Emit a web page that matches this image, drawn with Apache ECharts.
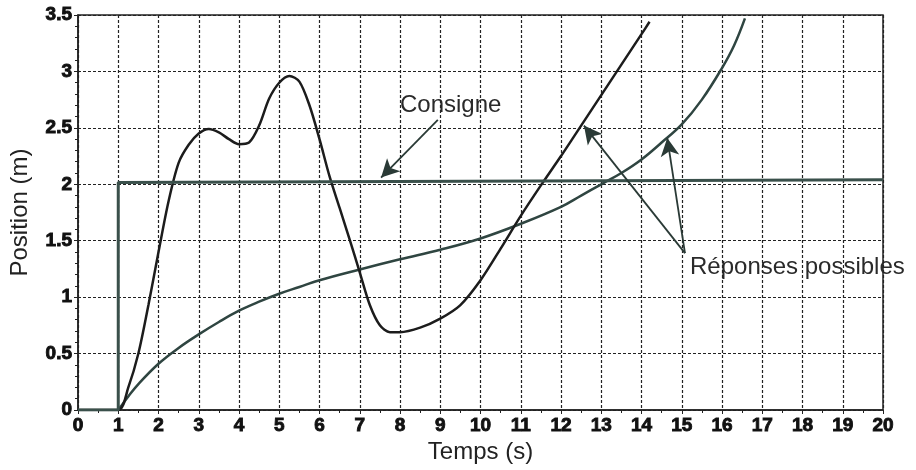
<!DOCTYPE html>
<html>
<head>
<meta charset="utf-8">
<script src="https://cdn.jsdelivr.net/npm/echarts@6/dist/echarts.min.js"></script>
<style>
  html, body { margin: 0; padding: 0; background: #fff; }
  #chartBox { width: 916px; height: 470px; }
</style>
</head>
<body>
<div id="chartBox"></div>
<script>
// consigne (échelon)
var consigneT = [0, 1, 1, 20];
var consigneY = [0, 0, 2.015, 2.04];

// réponse oscillante
var repAT = [0, 1, 1.25, 1.5, 1.75, 2, 2.25, 2.5, 2.75, 3, 3.25, 3.5, 3.75, 4, 4.25, 4.5, 4.75, 5, 5.25, 5.5, 5.75, 6, 6.25, 6.5, 6.75, 7, 7.25, 7.5, 7.75, 8, 8.5, 9, 9.5, 10, 10.5, 11, 11.5, 12, 12.5, 13, 13.5, 14, 14.2];
var repAY = [0, 0, 0.2, 0.5, 0.93, 1.4, 1.85, 2.19, 2.35, 2.45, 2.49, 2.46, 2.4, 2.355, 2.37, 2.52, 2.76, 2.9, 2.96, 2.91, 2.7, 2.4, 2.07, 1.79, 1.51, 1.22, 0.93, 0.75, 0.69, 0.69, 0.73, 0.81, 0.93, 1.15, 1.43, 1.72, 1.99, 2.25, 2.52, 2.79, 3.06, 3.33, 3.44];

// réponse lente
var repBT = [1, 1.25, 1.5, 2, 2.5, 3, 3.5, 4, 4.5, 5, 5.5, 6, 7, 8, 9, 10, 11, 12, 12.5, 13, 13.5, 14, 14.5, 15, 15.5, 16, 16.3, 16.57];
var repBY = [0, 0.12, 0.23, 0.41, 0.55, 0.67, 0.78, 0.88, 0.96, 1.03, 1.09, 1.15, 1.245, 1.335, 1.42, 1.52, 1.65, 1.8, 1.9, 2.0, 2.1, 2.22, 2.37, 2.53, 2.75, 3.03, 3.23, 3.47];

var xTicks = [0, 20, 1];
var yTicks = [0, 3.5, 0.5];

function pairs(t, y) {
    var out = [];
    for (var i = 0; i < t.length; i++) out.push([t[i], y[i]]);
    return out;
}

var font = '"Liberation Sans", Arial, sans-serif';
var chartDom = document.getElementById("chartBox");
var myChart = echarts.init(chartDom);

var arrowStyle = { color: '#2a3a36', width: 1.8, type: 'solid' };
// libellés gras (bordure pour épaissir le trait)
var tickLabel = {
    fontFamily: font, fontSize: 19, fontWeight: 'bold', color: '#111', margin: 6,
    textBorderColor: '#111', textBorderWidth: 0.9
};

var option = {
    animation: false,
    backgroundColor: '#fff',
    grid: {
        left: 78,
        right: 33,
        top: 15,
        bottom: 60,
        show: true,
        borderColor: '#222',
        borderWidth: 1.5
    },
    xAxis: {
        type: 'value',
        min: xTicks[0],
        max: xTicks[1],
        interval: xTicks[2],
        name: 'Temps (s)',
        nameLocation: 'middle',
        nameGap: 30,
        nameTextStyle: { fontFamily: font, fontSize: 24, color: '#222' },
        axisLine: { show: true, lineStyle: { color: '#222', width: 1.5 } },
        axisTick: { show: true, length: 4, lineStyle: { color: '#222' } },
        minorTick: { show: true, splitNumber: 2, length: 3, lineStyle: { color: '#222' } },
        axisLabel: tickLabel,
        splitLine: { show: true, lineStyle: { color: '#222', width: 1.2, type: [3, 2] } }
    },
    yAxis: {
        type: 'value',
        min: yTicks[0],
        max: yTicks[1],
        interval: yTicks[2],
        name: 'Position (m)',
        nameLocation: 'middle',
        nameGap: 46,
        nameTextStyle: { fontFamily: font, fontSize: 24, color: '#222' },
        axisLine: { show: true, lineStyle: { color: '#222', width: 1.5 } },
        axisTick: { show: true, length: 4, lineStyle: { color: '#222' } },
        minorTick: { show: true, splitNumber: 5, length: 3, lineStyle: { color: '#222' } },
        axisLabel: tickLabel,
        splitLine: { show: true, lineStyle: { color: '#222', width: 1.2, type: [3, 2] } }
    },
    series: [
        {
            name: 'Réponse B',
            type: 'line',
            data: pairs(repBT, repBY),
            smooth: 0.4,
            showSymbol: false,
            lineStyle: { color: '#2f4541', width: 2.5 },
            markLine: {
                silent: true,
                symbol: ['none', 'arrow'],
                symbolSize: [14, 18],
                label: { show: false },
                lineStyle: arrowStyle,
                data: [
                    [{ coord: [15.08, 1.39] }, { coord: [12.57, 2.52] }],
                    [{ coord: [15.08, 1.39] }, { coord: [14.64, 2.41] }]
                ]
            }
        },
        {
            name: 'Réponse A',
            type: 'line',
            data: pairs(repAT, repAY),
            smooth: 0.3,
            showSymbol: false,
            lineStyle: { color: '#1c1c1c', width: 2.5 }
        },
        {
            name: 'Consigne',
            type: 'line',
            data: pairs(consigneT, consigneY),
            showSymbol: false,
            lineStyle: { color: '#3a504b', width: 3 },
            markLine: {
                silent: true,
                symbol: ['none', 'arrow'],
                symbolSize: [14, 18],
                label: { show: false },
                lineStyle: arrowStyle,
                data: [
                    [{ coord: [8.94, 2.57] }, { coord: [7.53, 2.06] }]
                ]
            }
        }
    ],
    graphic: [
        {
            type: 'text',
            left: 400,
            top: 93,
            style: { text: 'Consigne', fontFamily: font, fontSize: 24, fill: '#2a2a2a' }
        },
        {
            type: 'text',
            left: 690,
            top: 255,
            style: { text: 'Réponses possibles', fontFamily: font, fontSize: 24, fill: '#2a2a2a' }
        }
    ]
};
myChart.setOption(option);
</script>
</body>
</html>
